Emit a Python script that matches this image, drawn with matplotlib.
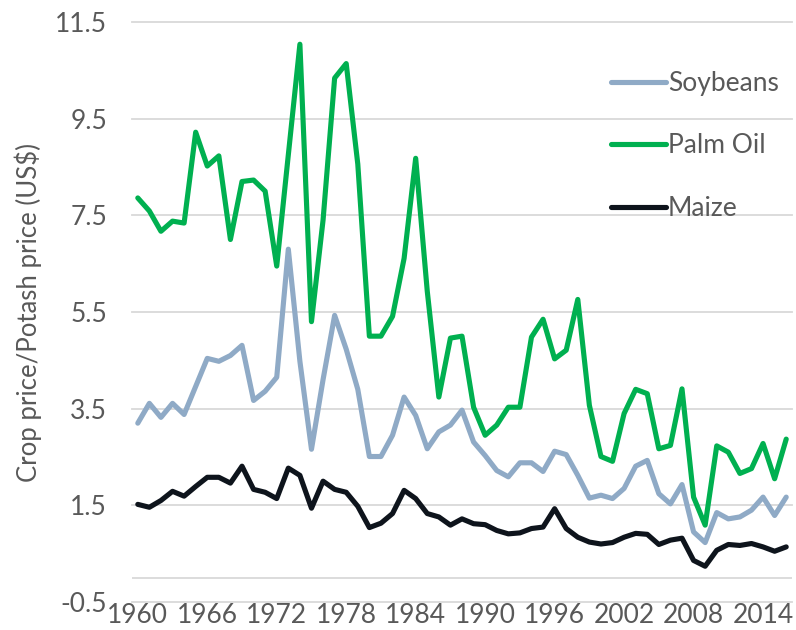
import matplotlib
matplotlib.use("Agg")
import matplotlib.pyplot as plt
import numpy as np

years = list(range(1960, 2017))

palm_oil = [7.86, 7.59, 7.17, 7.38, 7.34, 9.22, 8.52, 8.73, 7.00, 8.20,
            8.23, 8.00, 6.45, 8.75, 11.04, 5.30, 7.40, 10.34, 10.64, 8.56,
            5.00, 5.00, 5.41, 6.61, 8.68, 5.93, 3.74, 4.96, 5.00, 3.53,
            2.95, 3.16, 3.53, 3.53, 4.98, 5.35, 4.53, 4.71, 5.76, 3.57,
            2.51, 2.41, 3.40, 3.90, 3.81, 2.67, 2.74, 3.91, 1.67, 1.09,
            2.73, 2.60, 2.16, 2.26, 2.78, 2.05, 2.87]

soybeans = [3.20, 3.61, 3.32, 3.61, 3.38, 3.96, 4.54, 4.48, 4.60, 4.81,
            3.67, 3.86, 4.15, 6.80, 4.48, 2.66, 4.10, 5.43, 4.73, 3.90,
            2.51, 2.51, 2.95, 3.74, 3.36, 2.67, 3.02, 3.16, 3.47, 2.81,
            2.53, 2.22, 2.09, 2.38, 2.38, 2.20, 2.62, 2.55, 2.12, 1.65,
            1.71, 1.64, 1.85, 2.31, 2.43, 1.74, 1.53, 1.93, 0.95, 0.73,
            1.35, 1.22, 1.26, 1.40, 1.67, 1.29, 1.67]

maize = [1.52, 1.46, 1.60, 1.79, 1.69, 1.89, 2.08, 2.08, 1.96, 2.31,
         1.83, 1.77, 1.64, 2.27, 2.12, 1.44, 2.00, 1.83, 1.77, 1.48,
         1.04, 1.13, 1.33, 1.81, 1.64, 1.33, 1.26, 1.09, 1.22, 1.12,
         1.10, 0.98, 0.91, 0.93, 1.02, 1.05, 1.43, 1.02, 0.84, 0.74,
         0.70, 0.73, 0.84, 0.92, 0.90, 0.69, 0.78, 0.82, 0.36, 0.24,
         0.57, 0.69, 0.67, 0.71, 0.64, 0.55, 0.64]

y_ticks = [-0.5, 1.5, 3.5, 5.5, 7.5, 9.5, 11.5]
x_ticks = [1960, 1966, 1972, 1978, 1984, 1990, 1996, 2002, 2008, 2014]

plt.rcParams['font.family'] = ['Lato', 'DejaVu Sans']
plt.rcParams['axes.unicode_minus'] = False
text_color = '#595959'
fs = 19

fig = plt.figure(figsize=(7.96, 6.30), dpi=100)
ax = fig.add_axes([132 / 796, 1 - 602 / 630, 660 / 796, 580 / 630])

for yv in y_ticks:
    ax.axhline(yv, color='#D9D9D9', lw=1.3, zorder=0.5, clip_on=False)
ax.axhline(0, color='#D9D9D9', lw=1.3, zorder=0.5)

ax.plot(years, soybeans, color='#8FAAC6', lw=3.7, label='Soybeans', solid_capstyle='round', solid_joinstyle='round')
ax.plot(years, palm_oil, color='#00B050', lw=3.7, label='Palm Oil', solid_capstyle='round', solid_joinstyle='round')
ax.plot(years, maize, color='#0E141C', lw=3.7, label='Maize', solid_capstyle='round', solid_joinstyle='round')

ax.set_xlim(1959.5, 2016.5)
ax.set_ylim(-0.5, 11.5)
ax.set_yticks(y_ticks)
ax.set_xticks(x_ticks)
for s in ax.spines.values():
    s.set_visible(False)
ax.tick_params(axis='both', length=0, labelsize=fs, colors=text_color)
ax.tick_params(axis='x', pad=1)
ax.tick_params(axis='y', pad=18)
ax.set_ylabel('Crop price/Potash price (US$)', fontsize=18.5, color=text_color, labelpad=9)

leg = fig.legend(loc='upper left', bbox_to_anchor=(611 / 796, 1 - 71 / 630), frameon=False,
                 fontsize=fs, handlelength=2.1, handletextpad=0.05,
                 labelspacing=1.42, borderpad=0, borderaxespad=0)
for t in leg.get_texts():
    t.set_color(text_color)

fig.savefig('out.png', dpi=100)
